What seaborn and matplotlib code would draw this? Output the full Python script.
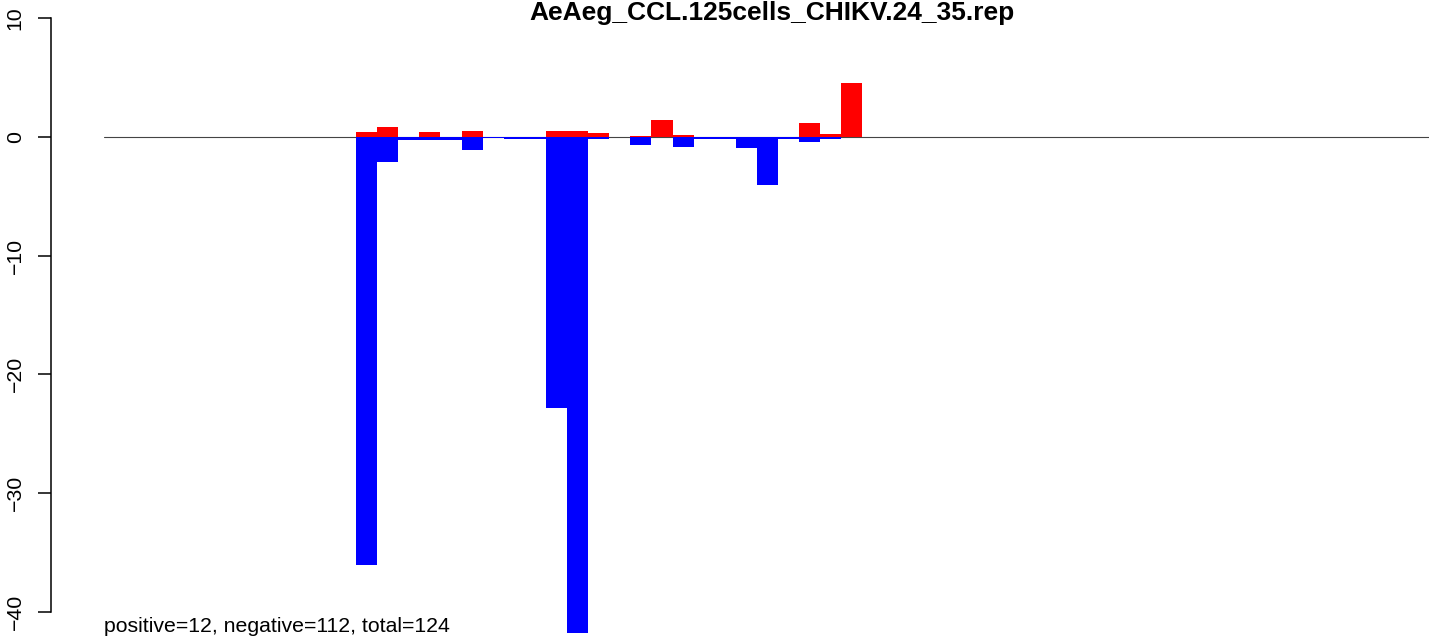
import matplotlib
matplotlib.use('Agg')
import matplotlib.pyplot as plt
import numpy as np
import seaborn as sns

### data (24 consecutive slots)
slots = list(range(24))
positive = [0.42, 0.84, 0.0, 0.42, 0.0, 0.50, 0.0, 0.0, 0.0, 0.50, 0.50, 0.34,
            0.0, 0.10, 1.43, 0.17, 0.0, 0.0, 0.0, 0.0, 0.0, 1.18, 0.25, 4.55]
negative = [-36.06, -2.08, -0.22, -0.22, -0.22, -1.10, -0.05, -0.17, -0.17, -22.83, -41.76, -0.17,
            0.0, -0.67, 0.0, -0.84, -0.17, -0.17, -0.93, -4.04, -0.17, -0.42, -0.17, 0.0]
y_ticks = [10, 0, -10, -20, -30, -40]
title = 'AeAeg_CCL.125cells_CHIKV.24_35.rep'
note = 'positive=12, negative=112, total=124'

sns.set_style('white')
plt.rcParams['font.family'] = ['Liberation Sans', 'DejaVu Sans']
plt.rcParams['text.color'] = 'black'
plt.rcParams['ytick.color'] = 'black'

W, H = 1429, 639
fig = plt.figure(figsize=(W / 100, H / 100), dpi=100)
ax = fig.add_axes([51 / W, 0, 1 - 51 / W, 1])

## zero line
ax.axhline(0, xmin=(104 - 51) / (W - 51), xmax=1, color='#444444', lw=0.8, zorder=0)

sns.barplot(x=slots, y=positive, native_scale=True, width=1, color='red', saturation=1,
            linewidth=0, errorbar=None, ax=ax)
sns.barplot(x=slots, y=negative, native_scale=True, width=1, color='blue', saturation=1,
            linewidth=0, errorbar=None, ax=ax)

## pixel mapping: slot 0 left edge at x=356, slot width 21.1 px, zero at y=137, 11.87 px per unit
ax.set_xlim(-0.5 - 305 / 21.1, -0.5 + 1073 / 21.1)
ax.set_ylim(-(H - 137) / 11.87, 137 / 11.87)

for s in ['top', 'right', 'bottom']:
    ax.spines[s].set_visible(False)
ax.spines['left'].set_bounds(-40, 10)
ax.spines['left'].set_linewidth(1.1)
ax.spines['left'].set_color('black')
ax.set_xticks([])
ax.set_yticks(y_ticks)
ax.set_yticklabels([str(t).replace('-', '\u2212') for t in y_ticks])
ax.tick_params(axis='y', left=True, length=9.4, width=1.1, color='black', labelcolor='black',
               labelsize=15.3, pad=9.5, labelrotation=90)
for lbl in ax.get_yticklabels():
    lbl.set_va('center')
ax.set_xlabel('')
ax.set_ylabel('')

fig.text(772 / W, 1 - 20 / H, title, ha='center', va='baseline', fontsize=19, fontweight='bold',
         color='black')
fig.text(104 / W, 1 - 632 / H, note, ha='left', va='baseline', fontsize=15.3, color='black')

fig.savefig('out.png', dpi=100)
